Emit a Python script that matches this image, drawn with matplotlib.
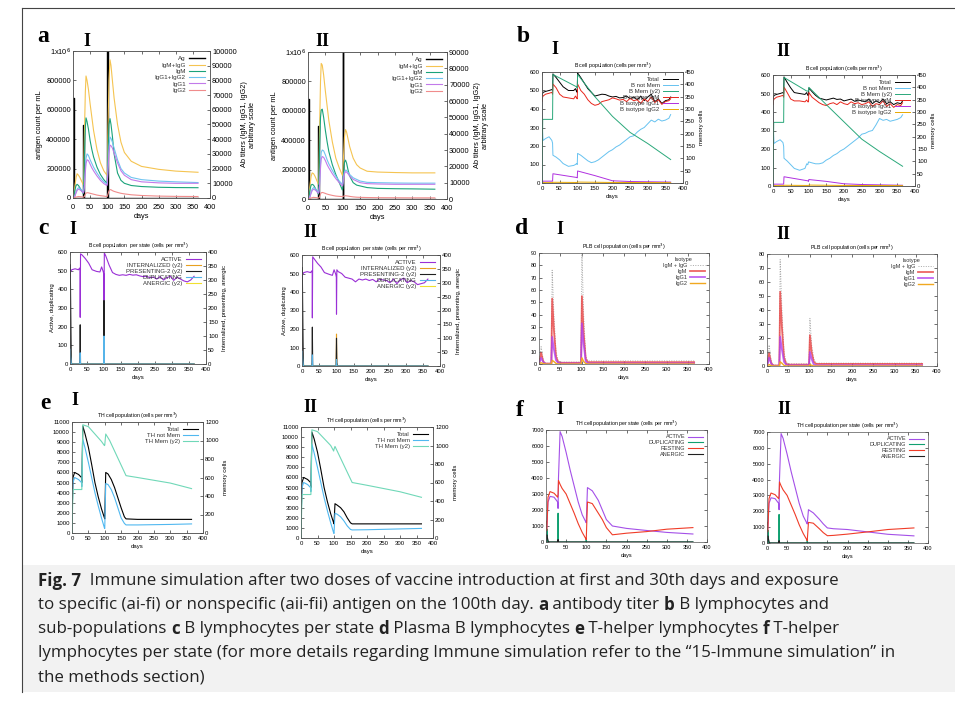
import matplotlib
matplotlib.use("Agg")
import matplotlib.pyplot as plt

plt.rcParams['font.family'] = ['Liberation Sans', 'DejaVu Sans']

W, H = 955, 705
fig = plt.figure(figsize=(W / 100, H / 100), dpi=100)

# ---------------- data ----------------
# a: antibody titer
a_ag_d = [0, 0, 2, 2, 30, 30, 31, 31, 100, 100, 101, 101, 365]
aI_ag_v = [0, 680000, 680000, 0, 0, 500000, 500000, 0, 0, 1000000, 1000000, 0, 0]
aII_ag_v = [0, 680000, 680000, 0, 0, 500000, 500000, 0, 0, 1000000, 1000000, 0, 0]
a_days = [0, 3, 6, 9, 12, 16, 20, 25, 30, 31, 33, 36, 38, 41, 45, 50, 55, 60, 70, 80, 90, 99, 100,
          102, 105, 108, 111, 115, 120, 130, 140, 150, 170, 200, 250, 300, 365]
aI_igmg = [0, 3000, 9000, 14000, 16500, 15500, 14000, 11500, 9000, 12000, 40000, 72000, 83000, 80000, 74000, 64000,
           55000, 46000, 33000, 24000, 18500, 15500, 16000, 45000, 80000, 94000, 90000, 80000, 68000, 50000, 38000,
           31000, 25000, 21500, 19500, 18300, 17500]
aI_igm = [0, 2000, 6000, 8500, 9300, 8500, 7000, 5000, 3000, 5000, 25000, 48000, 54500, 52000, 47000, 39000, 33000,
          28000, 21000, 16000, 12500, 10000, 11000, 30000, 50000, 54000, 50000, 42000, 30000, 17000, 12000, 10000,
          8500, 7800, 7300, 7100, 7000]
aI_g12 = [0, 500, 2000, 4000, 6000, 7000, 6500, 5500, 4000, 4200, 8000, 20000, 27000, 30000, 29000, 26000, 23500,
          21000, 17000, 13500, 11000, 9500, 10000, 20000, 35000, 41500, 40500, 38000, 34000, 26000, 20000, 17000,
          14000, 12500, 11500, 11000, 10500]
aI_g1 = [0, 400, 1700, 3500, 5200, 6000, 5600, 4700, 3500, 3700, 7000, 17500, 23500, 26000, 25500, 23000, 20500,
         18500, 15000, 12000, 9800, 8500, 9000, 18000, 30500, 36000, 35500, 34000, 30500, 24000, 18500, 15500,
         12500, 11000, 10300, 10000, 10000]
aI_g2 = [0, 100, 300, 600, 800, 1000, 900, 800, 600, 600, 1000, 2600, 3300, 3600, 3500, 3200, 2900, 2600, 2000,
         1600, 1300, 1000, 1100, 2500, 4800, 5700, 5600, 5000, 4500, 3800, 3200, 2800, 2200, 1700, 1300, 1100, 1000]

aII_igmg = [0, 3000, 9000, 14000, 16000, 15500, 14000, 11500, 9000, 12000, 40000, 72000, 83000, 82000, 76000, 66000,
            57000, 48000, 35000, 25000, 19000, 14500, 15000, 25000, 38000, 42500, 41000, 37000, 32000, 25000, 21000,
            19000, 17000, 16500, 16200, 16000, 16000]
aII_igm = [0, 2000, 6000, 8500, 9000, 8500, 7000, 5000, 3000, 5000, 28000, 50000, 54500, 55000, 50000, 42000, 35000,
           29000, 21000, 15000, 10000, 5500, 6500, 15000, 22500, 23800, 22000, 18000, 14000, 10000, 8500, 8000,
           7000, 6500, 6300, 6200, 6000]
aII_g12 = [0, 500, 2000, 4000, 6000, 7000, 6500, 5500, 4000, 4200, 8000, 22000, 28500, 30000, 29500, 27000, 24000,
           21500, 17500, 14000, 11000, 9000, 9500, 13000, 16500, 17700, 17500, 16500, 15000, 13000, 12000, 11000,
           10200, 10000, 9800, 9700, 9700]
aII_g1 = [0, 400, 1700, 3500, 5200, 6000, 5600, 4700, 3500, 3700, 7000, 19000, 24500, 26000, 25500, 23500, 21000,
          19000, 15500, 12500, 10000, 8000, 8500, 12000, 15500, 16700, 16500, 15500, 14000, 12000, 11000, 10000,
          9400, 9200, 9000, 9000, 9000]
aII_g2 = [0, 100, 300, 600, 800, 1000, 900, 800, 600, 600, 1200, 3000, 3800, 4000, 3800, 3400, 3000, 2700, 2200,
          1800, 1600, 1500, 1500, 1700, 1900, 2000, 1900, 1800, 1600, 1300, 1100, 1000, 900, 800, 750, 700, 700]

# b: B cell population
b_days = [0, 1, 3, 10, 20, 28, 30, 31, 40, 50, 60, 75, 90, 95, 98, 100, 101, 110, 120, 130, 140, 150,
          160, 170, 180, 190, 200, 210, 220, 230, 240, 250, 260, 270, 280, 290, 300, 310, 320, 330, 340, 350, 360, 365]
bI_total = [440, 480, 490, 495, 500, 505, 500, 590, 570, 545, 520, 500, 500, 510, 495, 490, 595, 570, 540, 510, 490, 470,
            475, 480, 478, 470, 465, 468, 460, 462, 470, 455, 465, 450, 470, 445, 465, 480, 440, 455, 430, 445, 450, 465]
bI_igm = [440, 460, 470, 480, 485, 490, 480, 535, 515, 480, 465, 460, 455, 470, 460, 455, 535, 500, 480, 450, 430, 420,
          425, 440, 445, 450, 460, 455, 448, 452, 440, 458, 445, 450, 430, 455, 440, 465, 435, 450, 425, 440, 445, 455]
bI_notmem = [440, 300, 230, 240, 250, 230, 215, 150, 140, 125, 105, 90, 95, 100, 105, 100, 160, 150, 135, 120, 110, 115,
             125, 140, 155, 170, 180, 195, 205, 220, 235, 250, 255, 275, 290, 300, 320, 340, 330, 345, 335, 340, 350, 370]
bI_mem_d = [0, 2, 30, 31, 98, 100, 101, 150, 200, 250, 300, 365]
bI_mem = [0, 258, 258, 440, 390, 385, 440, 350, 270, 205, 160, 95]
bI_g1_d = [0, 3, 30, 31, 98, 100, 101, 150, 200, 250, 365]
bI_g1 = [0, 10, 10, 50, 30, 28, 65, 40, 12, 8, 5]
b_g2_d = [0, 3, 30, 31, 100, 101, 200, 365]
b_g2 = [0, 2, 2, 4, 3, 5, 3, 2]

bII_total = [440, 480, 490, 495, 500, 505, 500, 590, 560, 530, 505, 500, 495, 505, 490, 490, 530, 510, 490, 475, 470, 465,
             470, 475, 468, 470, 460, 465, 470, 458, 465, 460, 455, 470, 445, 460, 450, 470, 445, 455, 440, 450, 445, 460]
bII_igm = [440, 460, 470, 480, 485, 490, 480, 535, 505, 470, 460, 460, 455, 465, 455, 455, 505, 480, 465, 450, 440, 435,
           445, 450, 440, 455, 445, 440, 455, 445, 450, 440, 445, 455, 430, 445, 440, 460, 430, 445, 425, 440, 435, 450]
bII_notmem = [440, 300, 230, 240, 250, 235, 215, 150, 135, 115, 95, 85, 95, 120, 115, 130, 130, 125, 120, 120, 125, 140,
              150, 165, 175, 190, 200, 215, 230, 245, 260, 280, 285, 295, 300, 330, 365, 355, 360, 350, 355, 360, 370, 385]
bII_mem_d = [0, 2, 30, 31, 95, 100, 101, 150, 200, 250, 300, 365]
bII_mem = [0, 258, 258, 440, 385, 385, 400, 330, 260, 190, 140, 80]
bII_g1_d = [0, 3, 30, 31, 98, 100, 101, 150, 200, 250, 365]
bII_g1 = [0, 10, 10, 50, 28, 25, 35, 25, 12, 8, 4]

# c: B cell population per state
c_act_d = [0, 1, 5, 15, 25, 28, 29.5, 30, 31, 35, 45, 55, 65, 78, 88, 93, 98, 99.5, 100, 101, 105, 115, 125, 135, 145, 155,
           165, 175, 185, 195, 205, 215, 225, 235, 245, 255, 265, 275, 285, 295, 305, 315, 325, 335, 345, 355, 365]
cI_act = [0, 490, 505, 510, 505, 514, 505, 250, 590, 585, 565, 540, 505, 496, 493, 520, 493, 480, 340, 595, 580, 530, 490, 480,
          475, 478, 475, 480, 476, 478, 472, 468, 470, 462, 466, 455, 468, 450, 462, 470, 448, 465, 455, 445, 440, 450, 470]
cII_act = [0, 490, 505, 510, 505, 514, 505, 260, 590, 580, 555, 535, 505, 496, 490, 520, 495, 480, 280, 520, 510, 500, 480, 475,
           470, 455, 470, 465, 470, 462, 468, 455, 470, 465, 462, 450, 470, 445, 465, 475, 450, 462, 455, 440, 445, 450, 470]
c_pres_d = [0, 0.2, 1, 3, 4, 29, 30, 31, 99, 100, 101, 365]
cI_pres = [0, 355, 330, 100, 0, 0, 140, 0, 0, 227, 0, 0]
cII_pres = [0, 355, 330, 100, 0, 0, 140, 0, 0, 100, 0, 0]
c_int_d = [0, 1, 3, 5, 29, 30, 31, 99, 100, 101, 365]
cI_int = [0, 50, 30, 0, 0, 10, 0, 0, 0, 0, 0]
cII_int = [0, 50, 30, 0, 0, 10, 0, 0, 115, 0, 0]
c_dup_d = [0, 1, 2, 4, 29, 30, 31, 99, 100, 101, 365]
cI_dup = [0, 80, 40, 0, 0, 60, 0, 0, 150, 0, 0]
cII_dup = [0, 80, 40, 0, 0, 60, 0, 0, 35, 0, 0]
c_anr_d = [0, 365]
c_anr = [0, 0]

# d: PLB cell population
d_days = [0, 2, 5, 10, 15, 29, 31, 35, 40, 45, 50, 99, 101, 105, 110, 115, 365]
dI_igmg = [0, 6, 14, 3, 0.5, 0.5, 76, 40, 10, 2.5, 1.5, 1.5, 90, 40, 6, 2.5, 2.5]
dI_igm = [0, 4, 9, 2, 0.3, 0.3, 53, 28, 6, 1.5, 1, 1, 55, 25, 4, 1.5, 1.5]
dI_g1 = [0, 2, 5, 1.5, 0.2, 0.2, 22, 12, 3, 1, 0.5, 0.5, 33, 16, 2, 0.5, 0.5]
dI_g2 = [0, 0.5, 1, 0.3, 0, 0, 3, 2, 0.5, 0, 0, 0, 5, 2, 0.4, 0, 0]
dII_igmg = [0, 6, 15, 3, 0.5, 0.5, 76, 40, 10, 2.5, 1.5, 1.5, 34, 15, 5, 2, 2]
dII_igm = [0, 4, 9, 2, 0.3, 0.3, 53, 28, 6, 1.5, 1, 1, 22, 10, 3, 1.5, 1.5]
dII_g1 = [0, 2, 6, 1.5, 0.2, 0.2, 21, 12, 3, 1, 0.5, 0.5, 10, 5, 1, 0.5, 0.5]
dII_g2 = [0, 0.5, 1, 0.3, 0, 0, 3, 2, 0.5, 0, 0, 0, 1, 0.5, 0, 0, 0]

# e: TH cell population
eI_d = [0, 3, 8, 20, 29, 30, 33, 40, 50, 60, 70, 80, 90, 99, 100, 103, 110, 120, 130, 140, 150, 160, 165, 200, 300, 365]
eI_total = [1300, 5500, 6000, 5800, 5500, 5000, 10600, 9800, 8500, 6800, 5000, 3600, 2400, 1500, 1400, 6000, 5850, 5300,
            4500, 3500, 2500, 1600, 1400, 1350, 1350, 1350]
eI_notmem = [1300, 5000, 5500, 5300, 5000, 4600, 9300, 8400, 7000, 5500, 4000, 2700, 1500, 500, 450, 4900, 4800, 4300,
             3500, 2500, 1500, 950, 800, 800, 850, 900]
eI_mem_d = [0, 3, 30, 33, 50, 90, 99, 100, 103, 115, 165, 200, 300, 365]
eI_mem = [0, 470, 470, 1170, 1150, 990, 945, 950, 1070, 1000, 620, 600, 540, 480]
eII_d = [0, 3, 8, 20, 29, 30, 33, 40, 50, 60, 70, 80, 90, 99, 100, 103, 110, 120, 130, 140, 150, 155, 200, 300, 365]
eII_total = [1300, 5500, 6000, 5800, 5500, 5000, 10500, 9800, 8500, 6800, 5000, 3600, 2400, 1500, 1400, 3400, 3250, 3000,
             2600, 2000, 1500, 1400, 1400, 1400, 1400]
eII_notmem = [1300, 5000, 5500, 5300, 5000, 4600, 9300, 8400, 7000, 5500, 4000, 2700, 1500, 500, 450, 2450, 2350, 2100,
              1700, 1200, 850, 800, 820, 900, 950]
eII_mem_d = [0, 3, 30, 33, 50, 90, 99, 100, 103, 115, 155, 200, 300, 365]
eII_mem = [0, 470, 470, 1170, 1150, 1000, 940, 960, 990, 900, 600, 570, 500, 440]

# f: TH cell population per state
f_d = [0, 2, 5, 10, 20, 29, 30, 31, 35, 40, 50, 60, 70, 80, 90, 99, 100, 103, 115, 130, 140, 150, 165, 200, 250, 300, 365]
fI_act = [0, 800, 2500, 2850, 2800, 2500, 2100, 4000, 6900, 6600, 5600, 4500, 3500, 2500, 1700, 1250, 1200, 3400, 3200,
          2600, 2000, 1400, 1000, 850, 720, 600, 500]
fI_rest = [1300, 700, 2800, 3150, 3050, 2800, 3000, 3850, 3600, 3350, 3000, 2400, 1800, 1150, 600, 200, 150, 2500, 2400,
           1800, 1400, 900, 450, 550, 650, 800, 900]
fII_act = [0, 800, 2500, 2850, 2800, 2500, 2100, 4000, 6900, 6600, 5600, 4500, 3500, 2500, 1700, 1250, 1200, 2100, 1900,
           1500, 1200, 950, 900, 850, 700, 550, 450]
fII_rest = [1300, 700, 2800, 3150, 3050, 2800, 3000, 3850, 3600, 3350, 3000, 2400, 1800, 1150, 600, 200, 150, 1300, 1250,
            900, 650, 460, 480, 560, 700, 850, 950]
f_dup_d = [0, 2, 3, 4, 29, 30, 31, 99, 100, 101, 365]
f_dup = [0, 400, 800, 0, 0, 1800, 0, 0, 200, 0, 0]
f_anr_d = [0, 1, 2, 4, 6, 29, 30, 31, 365]
f_anr = [0, 300, 450, 200, 0, 0, 150, 0, 0]

xt = [0, 50, 100, 150, 200, 250, 300, 350, 400]


def box(l, t, r, b):
    return fig.add_axes([l / W, 1 - b / H, (r - l) / W, (b - t) / H])


def frame(ax, fs):
    ax.tick_params(labelsize=fs, length=2, width=0.4, pad=1.5, direction="in")
    for s in ax.spines.values():
        s.set_linewidth(0.5)
        s.set_color("#555555")


def style(ax, ylim, yticks, fs, ylabels=None, mirror=False, xpad=2.5):
    ax.set_xlim(0, 400)
    ax.set_ylim(*ylim)
    ax.set_yticks(yticks)
    if ylabels is not None:
        ax.set_yticklabels(ylabels)
    ax.set_xticks(xt)
    frame(ax, fs)
    ax.tick_params(top=True, right=mirror)
    ax.tick_params(axis="x", pad=xpad)
    ax.set_xlabel("days", fontsize=fs, labelpad=1.5)


def twin(ax, ylim, yticks, fs):
    ax2 = ax.twinx()
    ax2.set_ylim(*ylim)
    ax2.set_yticks(yticks)
    frame(ax2, fs)
    return ax2


def legend(ax, handles, fs, **kw):
    lg = ax.legend(handles=handles, loc="upper right", fontsize=fs, frameon=False, markerfirst=False,
                   handlelength=2.6, labelspacing=0.15, borderaxespad=0.4, handletextpad=0.5, **kw)
    for t in lg.get_texts():
        t.set_color("#333333")
    return lg


def mark(x, y, s, size):
    fig.text(x / W, 1 - y / H, s, fontsize=size, fontweight="bold", family="Liberation Serif",
             ha="center", va="center")


# ---------------- panel a ----------------
def panel_a(pos, agv, igmg, igm, g12, g1, g2, ymax2):
    fs = 5.3
    ax = box(*pos)
    style(ax, (0, 1000000), [0, 200000, 400000, 600000, 800000, 1000000], fs,
          ["0", "200000", "400000", "600000", "800000", "1x10$^6$"], xpad=4)
    ax.set_ylabel("antigen count per mL", fontsize=fs, labelpad=2)
    ag, = ax.plot(a_ag_d, agv, color="black", lw=1.0, label="Ag")
    ax2 = twin(ax, (0, ymax2), list(range(0, ymax2 + 1, 10000)), fs)
    ax2.set_ylabel("Ab titers (IgM, IgG1, IgG2)\narbitrary scale", fontsize=fs, labelpad=3)
    h1, = ax2.plot(a_days, igmg, color="#f5c451", lw=0.8, label="IgM+IgG")
    h2, = ax2.plot(a_days, igm, color="#1aa37a", lw=0.8, label="IgM")
    h3, = ax2.plot(a_days, g12, color="#70c4f0", lw=0.8, label="IgG1+IgG2")
    h4, = ax2.plot(a_days, g1, color="#c27aea", lw=0.8, label="IgG1")
    h5, = ax2.plot(a_days, g2, color="#f08c8c", lw=0.8, label="IgG2")
    legend(ax2, [ag, h1, h2, h3, h4, h5], 4.5)


panel_a((73, 51, 210, 198), aI_ag_v, aI_igmg, aI_igm, aI_g12, aI_g1, aI_g2, 100000)
panel_a((308, 52, 447, 199), aII_ag_v, aII_igmg, aII_igm, aII_g12, aII_g1, aII_g2, 90000)


# ---------------- panel b ----------------
def panel_b(pos, total, igm, notmem, memd, mem, g1d, g1):
    fs = 4.3
    ax = box(*pos)
    style(ax, (0, 600), [0, 100, 200, 300, 400, 500, 600], fs)
    ax.set_title("B cell population (cells per mm$^3$)", fontsize=3.8, pad=3)
    ht, = ax.plot(b_days, total, color="black", lw=0.7, label="Total")
    hn, = ax.plot(b_days, notmem, color="#66c2f0", lw=0.7, label="B not Mem")
    hi, = ax.plot(b_days, igm, color="#e8261c", lw=0.7, label="B isotype IgM")
    hg1, = ax.plot(g1d, g1, color="#b030e0", lw=0.7, label="B isotype IgG1")
    hg2, = ax.plot(b_g2_d, b_g2, color="#e8a800", lw=0.7, label="B isotype IgG2")
    ax2 = twin(ax, (0, 450), [0, 50, 100, 150, 200, 250, 300, 350, 400, 450], fs)
    ax2.set_ylabel("memory cells", fontsize=fs, labelpad=3)
    hm, = ax2.plot(memd, mem, color="#2aa87a", lw=0.7, label="B Mem (y2)")
    legend(ax2, [ht, hn, hm, hi, hg1, hg2], fs)


panel_b((542, 72, 683, 183), bI_total, bI_igm, bI_notmem, bI_mem_d, bI_mem, bI_g1_d, bI_g1)
panel_b((773, 75, 915, 186), bII_total, bII_igm, bII_notmem, bII_mem_d, bII_mem, bII_g1_d, bII_g1)


# ---------------- panel c ----------------
def panel_c(pos, act, pres, intl, dup):
    fs = 4.3
    ax = box(*pos)
    style(ax, (0, 600), [0, 100, 200, 300, 400, 500, 600], fs)
    ax.set_ylabel("Active, duplicating", fontsize=fs, labelpad=2)
    ax.set_title("B cell population  per state (cells per mm$^3$)", fontsize=3.8, pad=3)
    ha, = ax.plot(c_act_d, act, color="#9a2fd6", lw=0.8, label="ACTIVE")
    ax2 = twin(ax, (0, 400), [0, 50, 100, 150, 200, 250, 300, 350, 400], fs)
    ax2.set_ylabel("Internalized, presenting, anergic", fontsize=fs, labelpad=3)
    hi, = ax2.plot(c_int_d, intl, color="#e8a020", lw=0.8, label="INTERNALIZED (y2)")
    hp, = ax2.plot(c_pres_d, pres, color="#202020", lw=0.8, label="PRESENTING-2 (y2)")
    hd, = ax2.plot(c_dup_d, [v * 400 / 600 for v in dup], color="#56b4e9", lw=0.8, label="DUPLICATING")
    hn, = ax2.plot(c_anr_d, c_anr, color="#f0e030", lw=0.8, label="ANERGIC (y2)")
    legend(ax2, [ha, hi, hp, hd, hn], fs)


panel_c((70, 252, 206, 364), cI_act, cI_pres, cI_int, cI_dup)
panel_c((302, 255, 440, 366), cII_act, cII_pres, cII_int, cII_dup)


# ---------------- panel d ----------------
def panel_d(pos, ymax, igmg, igm, g1, g2):
    fs = 4.0
    ax = box(*pos)
    style(ax, (0, ymax), list(range(0, ymax + 1, 10)), fs, mirror=True)
    ax.set_title("PLB cell population (cells per mm$^3$)", fontsize=3.8, pad=3)
    h0, = ax.plot(d_days, igmg, color="#a8a8a8", lw=0.7, ls=(0, (1, 1.5)), label="IgM + IgG")
    h1, = ax.plot(d_days, igm, color="#e84040", lw=1.3, alpha=0.8, label="IgM")
    h2, = ax.plot(d_days, g1, color="#b040f0", lw=1.3, alpha=0.8, label="IgG1")
    h3, = ax.plot(d_days, g2, color="#f0a820", lw=1.0, label="IgG2")
    lg = legend(ax, [h0, h1, h2, h3], fs, title="Isotype")
    lg.get_title().set_fontsize(fs)
    lg.get_title().set_color("#333333")


panel_d((539, 253, 709, 364), 90, dI_igmg, dI_igm, dI_g1, dI_g2)
panel_d((767, 254, 937, 366), 80, dII_igmg, dII_igm, dII_g1, dII_g2)


# ---------------- panel e ----------------
def panel_e(pos, d, total, notmem, memd, mem):
    fs = 4.3
    ax = box(*pos)
    style(ax, (0, 11000), list(range(0, 11001, 1000)), fs)
    ax.set_title("TH cell population (cells per mm$^3$)", fontsize=3.8, pad=3)
    ht, = ax.plot(d, total, color="black", lw=0.8, label="Total")
    hn, = ax.plot(d, notmem, color="#50b8f0", lw=0.8, label="TH not Mem")
    ax2 = twin(ax, (0, 1200), [0, 200, 400, 600, 800, 1000, 1200], fs)
    ax2.set_ylabel("memory cells", fontsize=fs, labelpad=3)
    hm, = ax2.plot(memd, mem, color="#70d8b8", lw=0.8, label="TH Mem (y2)")
    legend(ax2, [ht, hn, hm], fs)


panel_e((72, 422, 203, 533), eI_d, eI_total, eI_notmem, eI_mem_d, eI_mem)
panel_e((301, 427, 433, 538), eII_d, eII_total, eII_notmem, eII_mem_d, eII_mem)


# ---------------- panel f ----------------
def panel_f(pos, act, rest):
    fs = 4.0
    ax = box(*pos)
    style(ax, (0, 7000), list(range(0, 7001, 1000)), fs, mirror=True)
    ax.set_title("TH cell population per state (cells per mm$^3$)", fontsize=3.8, pad=3)
    ha, = ax.plot(f_d, act, color="#a450e8", lw=0.8, label="ACTIVE")
    hd, = ax.plot(f_dup_d, f_dup, color="#10a070", lw=0.8, label="DUPLICATING")
    hr, = ax.plot(f_d, rest, color="#f03c28", lw=0.8, label="RESTING")
    hn, = ax.plot(f_anr_d, f_anr, color="#202020", lw=0.8, label="ANERGIC")
    legend(ax, [ha, hd, hr, hn], fs)


panel_f((546, 430, 707, 542), fI_act, fI_rest)
panel_f((767, 432, 928, 543), fII_act, fII_rest)

# panel letters and roman numerals
mark(43, 37, "a", 17)
mark(87, 41, "I", 13)
mark(322, 42, "II", 13)
mark(523, 37, "b", 17)
mark(555, 50, "I", 13)
mark(783, 52, "II", 13)
mark(43, 228, "c", 17)
mark(73, 230, "I", 13)
mark(310, 233, "II", 13)
mark(522, 228, "d", 17)
mark(560, 229, "I", 13)
mark(783, 235, "II", 13)
mark(45, 403, "e", 17)
mark(75, 400, "I", 13)
mark(310, 408, "II", 13)
mark(520, 411, "f", 17)
mark(560, 410, "I", 13)
mark(784, 410, "II", 13)

# ---------------- caption ----------------
fig.patches.append(plt.Rectangle((22 / W, 1 - 692 / H), (W - 22) / W, 127 / H, transform=fig.transFigure,
                                 facecolor="#f2f2f2", edgecolor="none", zorder=-1))
fig.add_artist(plt.Line2D([22 / W, 22 / W], [1 - 8 / H, 1 - 692 / H], color="#444444", lw=0.8))
fig.add_artist(plt.Line2D([22 / W, 1], [1 - 8 / H, 1 - 8 / H], color="#444444", lw=0.8))

cap_lines = [
    [("Fig. 7", "bold"), ("  Immune simulation after two doses of vaccine introduction at first and 30th days and exposure", "normal")],
    [("to specific (ai-fi) or nonspecific (aii-fii) antigen on the 100th day. ", "normal"), ("a", "bold"),
     (" antibody titer ", "normal"), ("b", "bold"), (" B lymphocytes and", "normal")],
    [("sub-populations ", "normal"), ("c", "bold"), (" B lymphocytes per state ", "normal"), ("d", "bold"),
     (" Plasma B lymphocytes ", "normal"), ("e", "bold"), (" T-helper lymphocytes ", "normal"), ("f", "bold"),
     (" T-helper", "normal")],
    [("lymphocytes per state (for more details regarding Immune simulation refer to the \u201c15-Immune simulation\u201d in", "normal")],
    [("the methods section)", "normal")],
]
cap_y = [581, 605, 629, 653, 677]
renderer = fig.canvas.get_renderer()
for line, y in zip(cap_lines, cap_y):
    x = 38
    for txt, wt in line:
        t = fig.text(x / W, 1 - y / H, txt, fontsize=12.2, fontweight=wt, family="Open Sans",
                     ha="left", va="center", color="#222222")
        x += t.get_window_extent(renderer).width

fig.savefig("out.png", dpi=100)
